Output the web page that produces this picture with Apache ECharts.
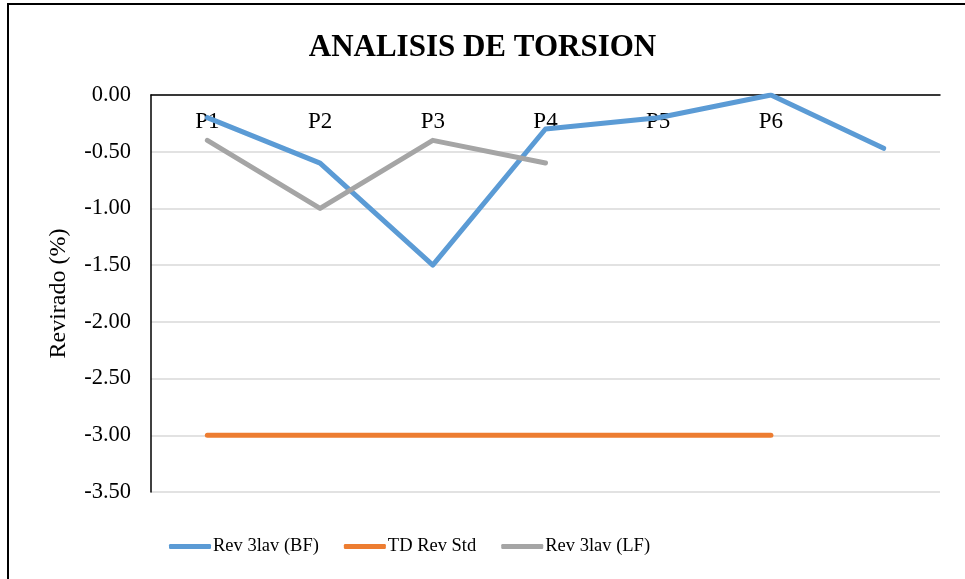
<!DOCTYPE html>
<html>
<head>
<meta charset="utf-8">
<script src="https://cdn.jsdelivr.net/npm/echarts@6/dist/echarts.min.js"></script>
<style>
  html, body { margin: 0; padding: 0; background: #fff; }
  #frame { position: absolute; left: 7px; top: 3px; width: 970px; height: 590px;
           border-left: 2px solid #000; border-top: 2px solid #000; }
  #chart { position: absolute; left: 0; top: 0; width: 965px; height: 579px; }
</style>
</head>
<body>
<div id="frame"></div>
<div id="chart"></div>
<script>
// categorias (la ultima sin rotulo)
var puntos = ['P1', 'P2', 'P3', 'P4', 'P5', 'P6', ''];
var rev3lavBF = [-0.2, -0.6, -1.5, -0.3, -0.2, 0.0, -0.47];
var tdRevStd = [-3.0, -3.0, -3.0, -3.0, -3.0, -3.0];
var rev3lavLF = [-0.4, -1.0, -0.4, -0.6];

var fuente = '"Liberation Serif", "Times New Roman", serif';

var chart = echarts.init(document.getElementById('chart'));

var option = {
  animation: false,
  title: {
    text: 'ANALISIS DE TORSION',
    left: 'center',
    top: 27,
    textStyle: { fontFamily: fuente, fontSize: 31, fontWeight: 'bold', color: '#000' }
  },
  legend: {
    left: 164,
    top: 532,
    itemWidth: 42,
    itemHeight: 5,
    itemGap: 25,
    icon: 'roundRect',
    textStyle: { fontFamily: fuente, fontSize: 18.5, color: '#000', padding: [0, 0, 0, -3] },
    data: ['Rev 3lav (BF)', 'TD Rev Std', 'Rev 3lav (LF)']
  },
  grid: { left: 151, right: 25, top: 95, bottom: 87 },
  xAxis: {
    type: 'category',
    position: 'top',
    data: puntos,
    axisLine: { lineStyle: { color: '#000', width: 1.5 } },
    axisTick: { show: false },
    axisLabel: { inside: true, margin: 15, fontFamily: fuente, fontSize: 23, color: '#000' }
  },
  yAxis: {
    type: 'value',
    min: -3.5,
    max: 0,
    interval: 0.5,
    name: 'Revirado (%)',
    nameLocation: 'middle',
    nameGap: 80,
    nameTextStyle: { fontFamily: fuente, fontSize: 24, color: '#000' },
    axisLine: { show: true, lineStyle: { color: '#000', width: 1.5 } },
    axisTick: { show: false },
    axisLabel: {
      margin: 20,
      fontFamily: fuente,
      fontSize: 22.5,
      color: '#000',
      formatter: function (v) { return v.toFixed(2); }
    },
    splitLine: { lineStyle: { color: '#d9d9d9', width: 1.5 } }
  },
  series: [
    {
      name: 'Rev 3lav (BF)',
      type: 'line',
      data: rev3lavBF,
      symbol: 'none',
      color: '#5b9bd5',
      lineStyle: { width: 5, cap: 'round', join: 'round' }
    },
    {
      name: 'TD Rev Std',
      type: 'line',
      data: tdRevStd,
      symbol: 'none',
      color: '#ed7d31',
      lineStyle: { width: 5, cap: 'round', join: 'round' }
    },
    {
      name: 'Rev 3lav (LF)',
      type: 'line',
      data: rev3lavLF,
      symbol: 'none',
      color: '#a5a5a5',
      lineStyle: { width: 5, cap: 'round', join: 'round' }
    }
  ]
};

chart.setOption(option);
</script>
</body>
</html>
